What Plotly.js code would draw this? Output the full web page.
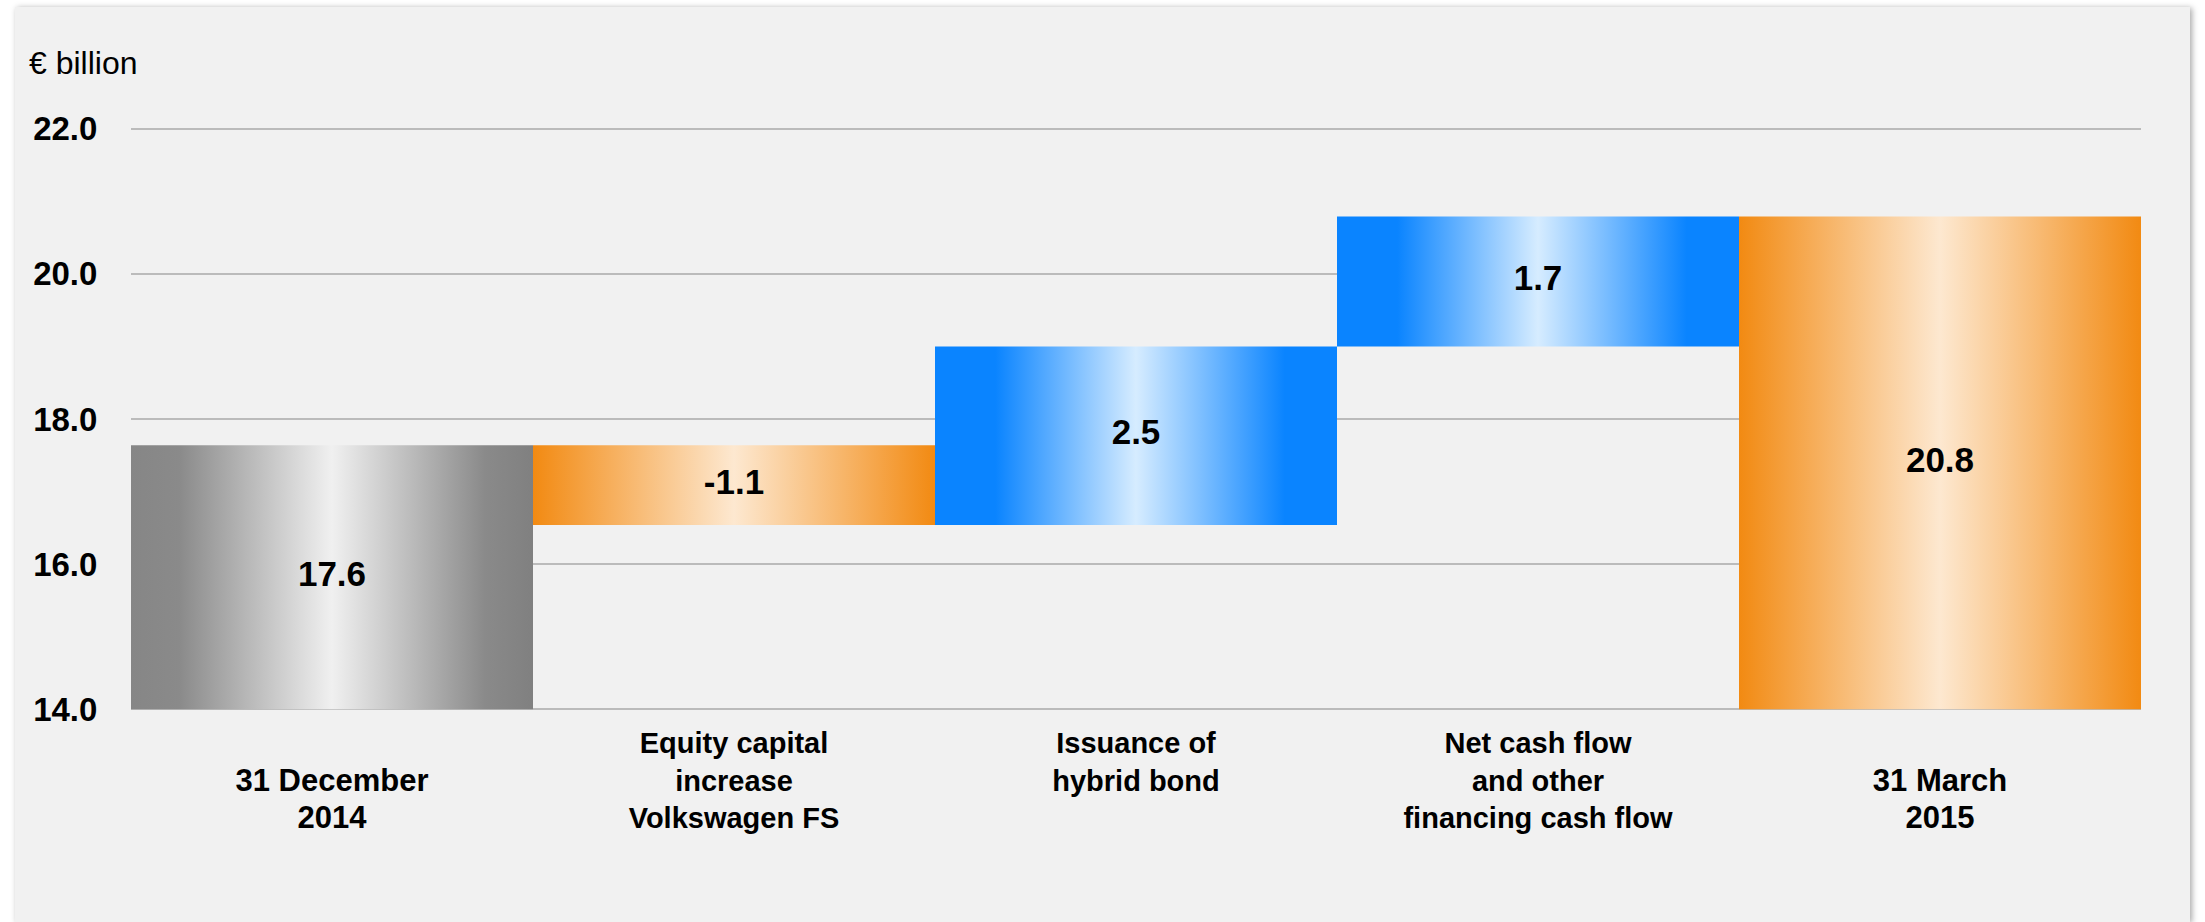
<!DOCTYPE html>
<html>
<head>
<meta charset="utf-8">
<script src="https://cdn.plot.ly/plotly-3.0.1.min.js"></script>
<style>
  html, body { margin: 0; padding: 0; background: #ffffff; overflow: hidden; width: 2205px; height: 922px; }
  #chart { position: absolute; left: 15px; top: 7px; width: 2175px; height: 915px;
           background: #f1f1f1; box-shadow: 2px 1px 6px rgba(0,0,0,0.35); }
</style>
</head>
<body>
<div id="chart"></div>
<script>
// ---- data ----
const categories = [
  '31 December 2014',
  'Equity capital increase Volkswagen FS',
  'Issuance of hybrid bond',
  'Net cash flow and other financing cash flow',
  '31 March 2015'
];
const tickLabels = [
  '&nbsp;<br><span style="font-size:31px">31 December</span><br><span style="font-size:31px">2014</span>',
  'Equity capital<br>increase<br>Volkswagen FS',
  'Issuance of<br>hybrid bond',
  'Net cash flow<br>and other<br>financing cash flow',
  '&nbsp;<br><span style="font-size:31px">31 March</span><br><span style="font-size:31px">2015</span>'
];
const measures = ['absolute', 'relative', 'relative', 'relative', 'total'];
const values = [17.64, -1.1, 2.46, 1.79, null];
const valueLabels = ['17.6', '-1.1', '2.5', '1.7', '20.8'];
const axisBase = 14.0;
const yTicks = [14, 16, 18, 20, 22];
const yTickLabels = ['14.0', '16.0', '18.0', '20.0', '22.0'];

// ---- styles ----
const grayScale = [[0, '#868686'], [0.12, '#8a8a8a'], [0.5, '#f0f0f0'], [0.88, '#8a8a8a'], [1, '#808080']];
const orangeScale = [[0, '#F28A12'], [0.5, '#FDE8D0'], [1, '#F28A12']];
const blueScale = [[0, '#0A84FF'], [0.15, '#0A84FF'], [0.5, '#D6ECFF'], [0.87, '#0A84FF'], [1, '#0A84FF']];
const barScales = [grayScale, orangeScale, blueScale, blueScale, orangeScale];
const FONT = '"Liberation Sans", Arial, Helvetica, sans-serif';

// ---- build waterfall geometry from data ----
const traces = [];
let running = 0;
const mids = [];
const halfW = 0.5;
for (let i = 0; i < categories.length; i++) {
  let lo, hi;
  if (measures[i] === 'absolute') { lo = axisBase; hi = values[i]; running = values[i]; }
  else if (measures[i] === 'relative') {
    const prev = running; running = prev + values[i];
    lo = Math.min(prev, running); hi = Math.max(prev, running);
  } else { lo = axisBase; hi = running; }
  mids.push((lo + hi) / 2);
  traces.push({
    type: 'scatter', mode: 'lines',
    x: [i - halfW, i + halfW, i + halfW, i - halfW, i - halfW],
    y: [lo, lo, hi, hi, lo],
    fill: 'toself',
    fillgradient: { type: 'horizontal', colorscale: barScales[i] },
    line: { width: 0, color: 'rgba(0,0,0,0)' },
    hoveron: 'fills', hoverinfo: 'text',
    text: categories[i] + ': ' + valueLabels[i],
    showlegend: false
  });
}
traces.push({
  type: 'scatter', mode: 'text',
  x: categories.map((c, i) => i),
  y: mids,
  text: valueLabels,
  textposition: 'middle center',
  textfont: { family: FONT, size: 35, color: '#000000', weight: 'bold' },
  hoverinfo: 'skip', showlegend: false, cliponaxis: false
});

const layout = {
  width: 2175, height: 915,
  paper_bgcolor: '#f1f1f1', plot_bgcolor: 'rgba(0,0,0,0)',
  margin: { l: 116, r: 49, t: 118, b: 209 },
  showlegend: false,
  xaxis: {
    range: [-0.5, 4.5], tickvals: [0, 1, 2, 3, 4], ticktext: tickLabels,
    showgrid: false, zeroline: false, showline: false,
    ticks: 'outside', ticklen: 4, tickcolor: 'rgba(0,0,0,0)',
    tickfont: { family: FONT, size: 29, color: '#000000', weight: 'bold' },
    fixedrange: true
  },
  yaxis: {
    range: [13.95, 22.05], tickvals: yTicks, ticktext: yTickLabels,
    showgrid: true, gridcolor: '#bbbbbb', gridwidth: 2,
    zeroline: false, showline: false,
    ticks: 'outside', ticklen: 26, tickcolor: 'rgba(0,0,0,0)',
    tickfont: { family: FONT, size: 33, color: '#000000', weight: 'bold' },
    fixedrange: true
  },
  annotations: [{
    text: '€ billion', xref: 'paper', yref: 'paper',
    x: -0.0517, y: 1.1054, xanchor: 'left', yanchor: 'middle',
    showarrow: false, font: { family: FONT, size: 32, color: '#000000' }
  }]
};

Plotly.newPlot('chart', traces, layout, { displayModeBar: false, staticPlot: false });
</script>
</body>
</html>
